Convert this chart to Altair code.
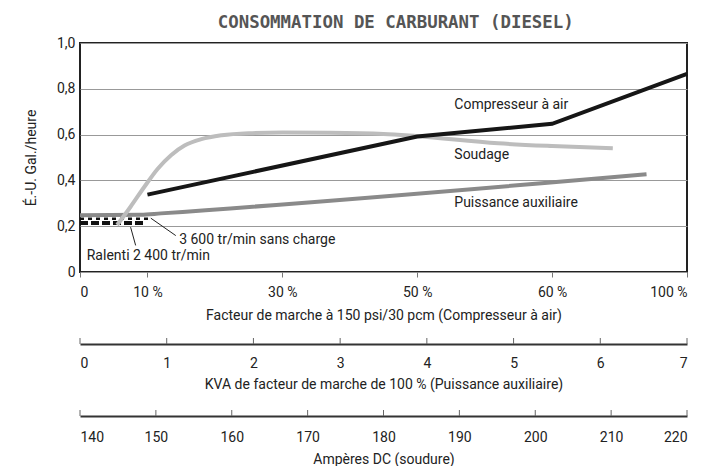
import altair as alt
import pandas as pd

# ---- data ----
x_tick_pos = [0, 10, 30, 50, 70, 90]
x_tick_labels = ["0", "10 %", "30 %", "50 %", "60 %", "100 %"]
y_ticks = [0, 0.2, 0.4, 0.6, 0.8, 1.0]

comp_x = [10, 50, 70, 90]
comp_y = [0.338, 0.592, 0.647, 0.865]

soud_x = [5.5, 7.5, 9.5, 11.5, 13.5, 15.5, 18, 21, 25, 30, 37, 45, 50, 62, 70, 79]
soud_y = [0.205, 0.285, 0.37, 0.45, 0.51, 0.552, 0.58, 0.597, 0.606, 0.609, 0.608, 0.603, 0.593, 0.562, 0.55, 0.54]

aux_x = [0, 9, 12, 84]
aux_y = [0.248, 0.25, 0.256, 0.427]

idle3600_x = [0, 10.4]
idle3600_y = [0.232, 0.232]
idle2400_x = [0, 9.6]
idle2400_y = [0.214, 0.214]

kva_ticks = [0, 1, 2, 3, 4, 5, 6, 7]
amp_ticks = [140, 150, 160, 170, 180, 190, 200, 210, 220]

series_labels = ["Compresseur à air", "Soudage", "Puissance auxiliaire",
                 "3 600 tr/min sans charge", "Ralenti 2 400 tr/min"]
series_label_x = [55.5, 55.5, 55.5, 14.7, 1.0]
series_label_y = [0.731, 0.509, 0.303, 0.138, 0.068]

leader_id = [0, 0, 1, 1]
leader_x = [10.5, 14.2, 7.5, 8.25]
leader_y = [0.235, 0.159, 0.196, 0.116]

FONT = "Roboto"
FS = 14
W = 607
H = 229

# label expression for x axis
expr = "''"
for p, l in reversed(list(zip(x_tick_pos, x_tick_labels))):
    expr = f"datum.value == {p} ? '{l}' : ({expr})"

xs = alt.Scale(domain=[0, 90], nice=False, zero=False)
ys = alt.Scale(domain=[0, 1.0], nice=False)

xax = alt.Axis(values=x_tick_pos, labelExpr=expr, title="Facteur de marche à 150 psi/30 pcm (Compresseur à air)",
               grid=False, domain=False, ticks=True, tickSize=5, tickColor="#777", tickWidth=1,
               labelPadding=8, titlePadding=9, labelFontSize=FS, titleFontSize=FS,
               labelFont=FONT, titleFont=FONT, titleFontWeight="normal", labelColor="#222", titleColor="#222")
yax = alt.Axis(values=y_ticks,
               labelExpr="datum.value == 0 ? '0' : replace(format(datum.value, '.1f'), '.', ',')",
               title="É.-U. Gal./heure", grid=True, gridColor="#999", gridWidth=1,
               domain=False, ticks=False, labelPadding=5, titlePadding=18,
               labelFontSize=FS, titleFontSize=FS, labelFont=FONT, titleFont=FONT,
               titleFontWeight="normal", labelColor="#222", titleColor="#222")


def line_df(xv, yv):
    return pd.DataFrame({"x": xv, "y": yv})


base_x = alt.X("x:Q", scale=xs, axis=xax)
base_y = alt.Y("y:Q", scale=ys, axis=yax)

l2400 = alt.Chart(line_df(idle2400_x, idle2400_y)).mark_line(
    color="#111", strokeWidth=4, strokeDash=[8, 3], strokeCap="butt").encode(x=base_x, y=base_y)
l3600 = alt.Chart(line_df(idle3600_x, idle3600_y)).mark_line(
    color="#111", strokeWidth=2.5, strokeDash=[4, 4], strokeCap="butt").encode(x="x:Q", y="y:Q")
aux = alt.Chart(line_df(aux_x, aux_y)).mark_line(
    color="#8a8a8a", strokeWidth=4, interpolate="monotone").encode(x="x:Q", y="y:Q")
soud = alt.Chart(line_df(soud_x, soud_y)).mark_line(
    color="#bdbdbd", strokeWidth=4, interpolate="monotone").encode(x="x:Q", y="y:Q")
comp = alt.Chart(line_df(comp_x, comp_y)).mark_line(
    color="#161616", strokeWidth=4).encode(x="x:Q", y="y:Q")

leaders = alt.Chart(pd.DataFrame({"id": leader_id, "x": leader_x, "y": leader_y})).mark_line(
    color="#222", strokeWidth=1).encode(x="x:Q", y="y:Q", detail="id:N")

labels = alt.Chart(pd.DataFrame({"t": series_labels, "x": series_label_x, "y": series_label_y})).mark_text(
    align="left", baseline="middle", font=FONT, fontSize=FS, color="#222").encode(
    x="x:Q", y="y:Q", text="t:N")

main = alt.layer(l2400, l3600, aux, soud, comp, leaders, labels).properties(
    width=W, height=H, view=alt.ViewBackground(stroke="#222", strokeWidth=2))


def extra_axis(ticks, title, lp, tp, h):
    df = pd.DataFrame({"v": ticks})
    sc = alt.Scale(domain=[ticks[0], ticks[-1]], nice=False, zero=False)
    ax = alt.Axis(values=ticks, title=title, grid=False, domain=True, domainColor="#333",
                  domainWidth=2, ticks=False, labelPadding=lp, titlePadding=tp,
                  labelFontSize=FS, titleFontSize=FS, labelFont=FONT, titleFont=FONT,
                  titleFontWeight="normal", labelColor="#222", titleColor="#222", format="d")
    return alt.Chart(df).mark_rule(color="#666", strokeWidth=1).encode(
        x=alt.X("v:Q", scale=sc, axis=ax),
        y=alt.value(h - 6), y2=alt.value(h)
    ).properties(width=W, height=h, view=alt.ViewBackground(strokeWidth=0))


kva = extra_axis(kva_ticks, "KVA de facteur de marche de 100 % (Puissance auxiliaire)", 12, 7, 8)
amp = extra_axis(amp_ticks, "Ampères DC (soudure)", 14, 8, 12)

chart = alt.vconcat(main, kva, amp, spacing=13).properties(
    title=alt.TitleParams("CONSOMMATION DE CARBURANT (DIESEL)", font="DejaVu Sans Mono",
                          fontSize=17.4, fontWeight="bold", color="#555", anchor="middle",
                          offset=4, dx=36),
    padding={"left": 15, "top": 5, "right": 5, "bottom": 0}
).configure_view(strokeWidth=0)

chart.save("out.html", embed_options={"renderer": "svg", "actions": False})
